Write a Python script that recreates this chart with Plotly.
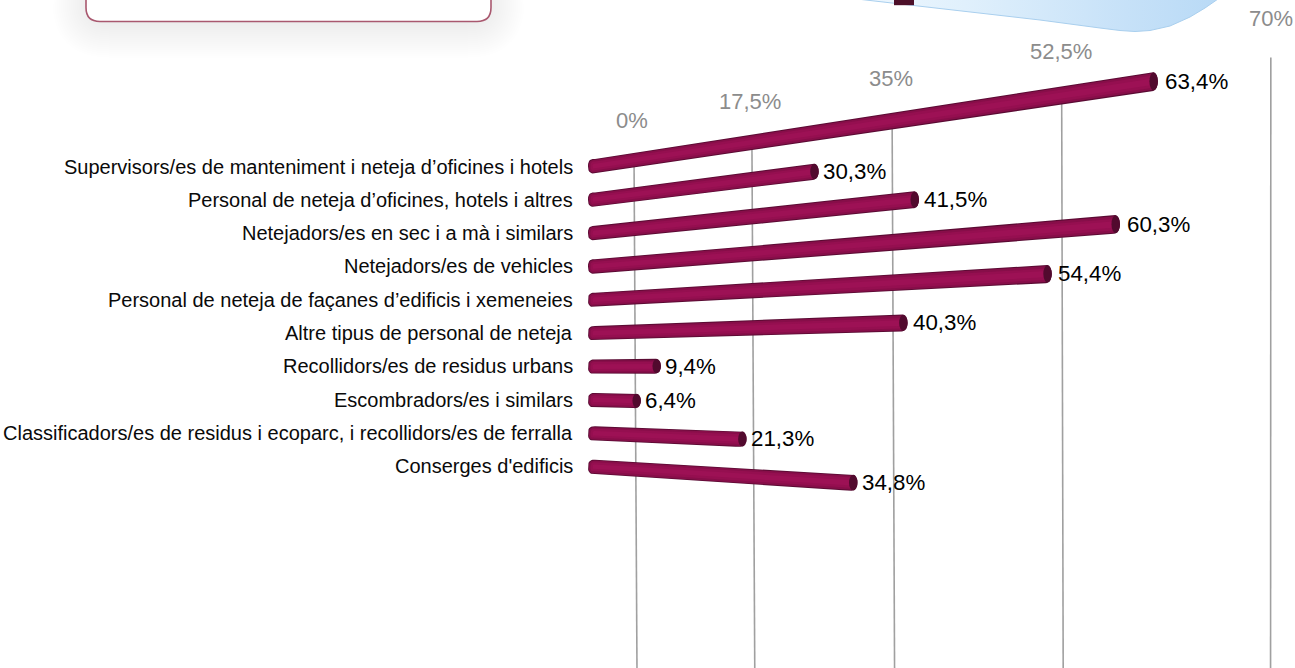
import numpy as np
import plotly.graph_objects as go

categories = [
    "Supervisors/es de manteniment i neteja d’oficines i hotels",
    "Personal de neteja d’oficines, hotels i altres",
    "Netejadors/es en sec i a mà i similars",
    "Netejadors/es de vehicles",
    "Personal de neteja de façanes d’edificis i xemeneies",
    "Altre tipus de personal de neteja",
    "Recollidors/es de residus urbans",
    "Escombradors/es i similars",
    "Classificadors/es de residus i ecoparc, i recollidors/es de ferralla",
    "Conserges d'edificis",
]
values = [63.4, 30.3, 41.5, 60.3, 54.4, 40.3, 9.4, 6.4, 21.3, 34.8]
axis_ticks = [0, 17.5, 35, 52.5, 70]

W, H = 1295, 668
FONT = "Liberation Sans, Arial, sans-serif"


# Perspective projection of the 3D chart: (value, row) -> page position
def proj_x(v, origin=600.0, k=0.00466):
    return origin + 6.2 * v / (1 - k * v)


def row_y0(i):
    return 167 + 33.3 * i


def row_y(i, x):
    return row_y0(i) + (-0.152 + 0.0236 * i) * (x - 590)


def half_width(x):
    return (14.5 + (x - 590) * 0.0085) / 2


def fmt(v):
    return f"{v:g}".replace(".", ",") + "%"


def bar_outline(i, v, f):
    """Closed outline of a tapered, round-ended tube; f scales its thickness."""
    xe = proj_x(v) - 6
    xs = 595.0
    t = np.linspace(0, 1, 30)
    x = xs + (xe - xs) * t
    y = row_y(i, x)
    hw = half_width(x) * f
    a = np.linspace(np.pi / 2, -np.pi / 2, 15)
    xr = xe + 6 * np.cos(a) * f
    yr = row_y(i, xe) - half_width(xe) * f * np.sin(a)
    a2 = np.linspace(-np.pi / 2, -3 * np.pi / 2, 15)
    # flattened (rounded-rectangle like) start of the tube
    xl = xs + 7 * np.sign(np.cos(a2)) * np.abs(np.cos(a2)) ** 0.7 * f
    yl = row_y(i, xs) - half_width(xs) * f * np.sign(np.sin(a2)) * np.abs(np.sin(a2)) ** 0.7
    px = np.concatenate([x, xr, x[::-1], xl])
    py = np.concatenate([y - hw, yr, (y + hw)[::-1], yl])
    return px, py


def rounded(x0, y0, x1, y1, r):
    return (f"M{x0+r},{y0} L{x1-r},{y0} Q{x1},{y0} {x1},{y0+r} L{x1},{y1-r} Q{x1},{y1} {x1-r},{y1} "
            f"L{x0+r},{y1} Q{x0},{y1} {x0},{y1-r} L{x0},{y0+r} Q{x0},{y0} {x0+r},{y0} Z")


fig = go.Figure()
shapes = []

# Card with soft shadow, cropped by the top of the page
for g in range(20, 0, -1):
    d = g * 2.0
    shapes.append(dict(type="path", path=rounded(92 - d, -40, 485 + d, 18 + d, 18 + d),
                       fillcolor="rgba(0,0,0,0.0042)", line_width=0, layer="below"))
shapes.append(dict(type="path", path=rounded(86, -40, 491, 21.5, 14), fillcolor="white",
                   line=dict(color="#a9586f", width=1.6), layer="below"))

# Light blue panel cropped by the top of the page
panel_x = [857, 950, 1040, 1100, 1120, 1135, 1150, 1170, 1190, 1205, 1218, 857]
panel_y = [-1, 10, 20, 28, 30.5, 31.5, 30.5, 26, 17, 8, -1, -1]
fig.add_trace(go.Scatter(
    x=panel_x, y=panel_y, mode="lines", fill="toself",
    fillgradient=dict(type="horizontal",
                      colorscale=[[0, "#eef7fe"], [0.3, "#e0f0fc"], [0.75, "#c6e1f8"], [1, "#b9daf6"]]),
    line=dict(color="#a9cfee", width=1), hoverinfo="skip", showlegend=False))
shapes.append(dict(type="rect", x0=894, x1=914, y0=-2, y1=5.2, fillcolor="#4d1029", line_width=0, layer="above"))

# Gridlines
for v in axis_ticks:
    xt = proj_x(v, 634, 0.00455)
    xb = proj_x(v, 637, 0.0045)
    fig.add_trace(go.Scatter(
        x=[xt, xb], y=[row_y(0, xt) - 6, H + 2], mode="lines",
        line=dict(color="#a0a0a0", width=1.6), hoverinfo="skip", showlegend=False))

# Bars as layered tubes
layers = [(1.0, "#5a0b33"), (0.88, "#870e49"), (0.65, "#950f50"), (0.35, "#9d1155")]
for f, colour in layers:
    xs, ys = [], []
    for i, v in enumerate(values):
        px, py = bar_outline(i, v, f)
        xs += list(px) + [None]
        ys += list(py) + [None]
    fig.add_trace(go.Scatter(x=xs, y=ys, mode="lines", fill="toself", fillcolor=colour,
                             line=dict(width=0), hoverinfo="skip", showlegend=False))

# End caps
for i, v in enumerate(values):
    xe = proj_x(v) - 4.5
    ye = row_y(i, xe)
    hw = half_width(xe) * 0.95
    shapes.append(dict(type="circle", x0=xe - 4, x1=xe + 4.5, y0=ye - hw, y1=ye + hw,
                       fillcolor="#520a2e", line_width=0, layer="above"))

annotations = []
for i, (c, v) in enumerate(zip(categories, values)):
    annotations.append(dict(x=575, y=row_y0(i) - 0.5, text=c, xanchor="right", yanchor="middle", showarrow=False,
                            font=dict(family=FONT, size=20, color="#0a0a0a")))
    xe = proj_x(v)
    annotations.append(dict(x=xe + 2.5 + max(0, xe - 800) * 0.0075, y=row_y(i, xe - 5), text=fmt(v),
                            xanchor="left", yanchor="middle",
                            showarrow=False, font=dict(family=FONT, size=22.3, color="#000000")))
for v in axis_ticks:
    xt = proj_x(v, 634, 0.00455) - 2 + (v / 70) * 2
    annotations.append(dict(x=xt, y=row_y(0, xt) - 40 - (v / 70) * 5, text=fmt(v), xanchor="center", yanchor="middle",
                            showarrow=False, font=dict(family=FONT, size=22, color="#8c8c8c")))

fig.update_layout(
    width=W, height=H, margin=dict(l=0, r=0, t=0, b=0),
    paper_bgcolor="white", plot_bgcolor="white", showlegend=False,
    xaxis=dict(range=[0, W], visible=False, fixedrange=True),
    yaxis=dict(range=[H, 0], visible=False, fixedrange=True),
    shapes=shapes, annotations=annotations,
)
fig.write_html("out.html", config=dict(displayModeBar=False),
               post_script="document.body.style.margin='0';document.body.style.overflow='hidden';")
